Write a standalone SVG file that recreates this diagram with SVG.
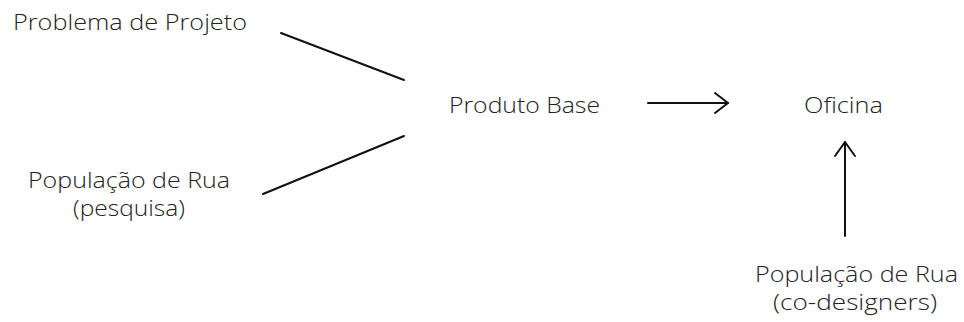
<svg xmlns="http://www.w3.org/2000/svg" width="964" height="322" viewBox="0 0 964 322">
<style>
text{font-family:"Open Sans","Liberation Sans",sans-serif;font-size:22.5px;font-weight:300;fill:#222}
.c{stroke:#111;stroke-width:2;fill:none;stroke-linecap:round;stroke-linejoin:round}
</style>
<rect width="964" height="322" fill="#fff"/>
<g id="problema"><text x="13" y="30" textLength="234" lengthAdjust="spacingAndGlyphs">Problema de Projeto</text></g>
<g id="populacao-pesquisa">
<text x="28" y="188" textLength="202" lengthAdjust="spacingAndGlyphs">População de Rua</text>
<text x="73" y="216" textLength="112" lengthAdjust="spacingAndGlyphs">(pesquisa)</text>
</g>
<g id="produto"><text x="449" y="113" textLength="151" lengthAdjust="spacingAndGlyphs">Produto Base</text></g>
<g id="oficina"><text x="804" y="113" textLength="79" lengthAdjust="spacingAndGlyphs">Oficina</text></g>
<g id="populacao-codesigners">
<text x="755" y="282" textLength="203" lengthAdjust="spacingAndGlyphs">População de Rua</text>
<text x="773" y="310" textLength="164" lengthAdjust="spacingAndGlyphs">(co-designers)</text>
</g>
<g id="connectors">
<line class="c" x1="281" y1="33" x2="404" y2="80"/>
<line class="c" x1="263" y1="194" x2="404" y2="136"/>
<line class="c" x1="648" y1="103" x2="728" y2="103"/>
<polyline class="c" points="715,93 728,103 715,113"/>
<line class="c" x1="845" y1="236" x2="845" y2="142"/>
<polyline class="c" points="835,156 845,142 855,156"/>
</g>
</svg>
